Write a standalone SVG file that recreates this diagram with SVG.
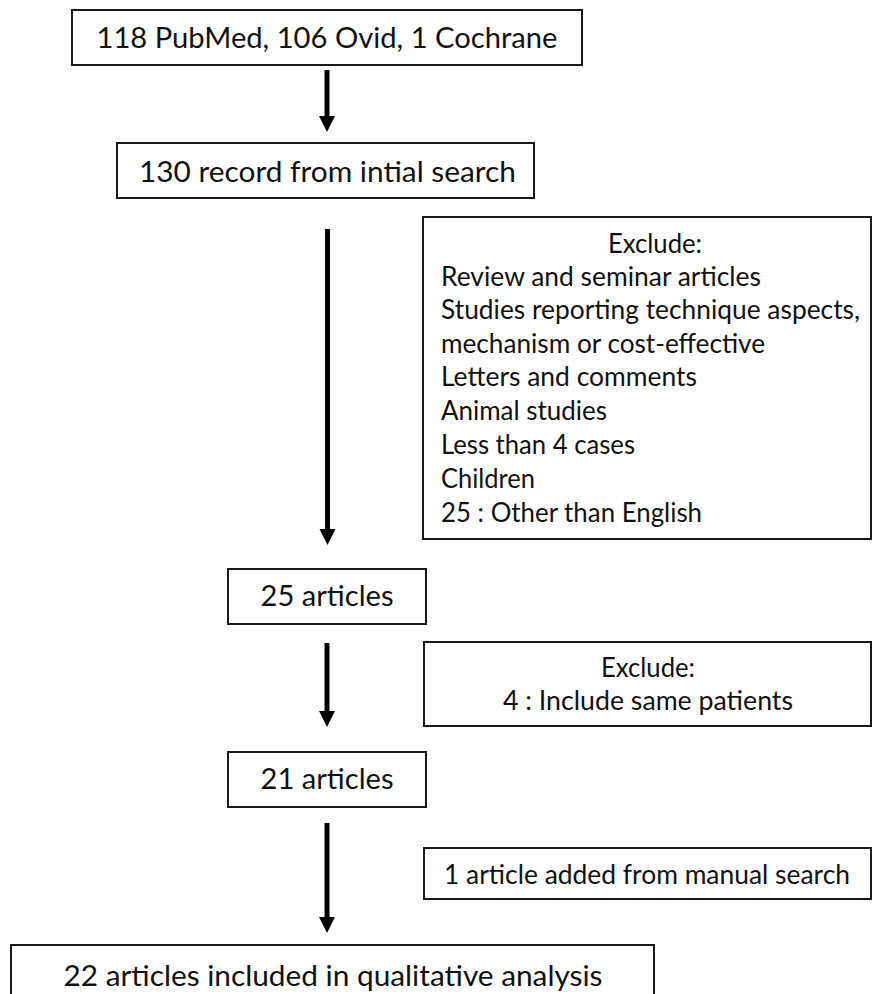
<svg xmlns="http://www.w3.org/2000/svg" width="873" height="994" viewBox="0 0 873 994">
<style>
.box{fill:#fff;stroke:#1a1a1a;stroke-width:2}
.t{font-family:Lato,"Open Sans","Liberation Sans",sans-serif;fill:#111}
.big{font-size:29px}
.mid{font-size:27px}
.c{text-anchor:middle}
.arr{stroke:#000;stroke-width:5;fill:none}
</style>
<defs>
<marker id="ah" markerUnits="userSpaceOnUse" markerWidth="17" markerHeight="17" refX="1" refY="8" orient="auto" viewBox="0 0 17 16">
<path d="M0,0 L16,8 L0,16 z" fill="#000"/>
</marker>
</defs>
<rect width="873" height="994" fill="#fff"/>
<g id="connectors">
<line class="arr" x1="327" y1="70" x2="327" y2="117" marker-end="url(#ah)"/>
<line class="arr" x1="327.5" y1="229" x2="327.5" y2="530" marker-end="url(#ah)"/>
<line class="arr" x1="327" y1="643" x2="327" y2="712" marker-end="url(#ah)"/>
<line class="arr" x1="327" y1="823" x2="327" y2="918" marker-end="url(#ah)"/>
</g>
<g id="n1">
<rect class="box" x="72" y="10" width="510" height="55"/>
<text class="t big c" x="327" y="48" textLength="461" lengthAdjust="spacingAndGlyphs">118 PubMed, 106 Ovid, 1 Cochrane</text>
</g>
<g id="n2">
<rect class="box" x="117" y="143" width="417" height="55"/>
<text class="t big c" x="327.5" y="182" textLength="377" lengthAdjust="spacingAndGlyphs">130 record from intial search</text>
</g>
<g id="ex1">
<rect class="box" x="423" y="217" width="448" height="322"/>
<text class="t mid c" x="655" y="253" textLength="94" lengthAdjust="spacingAndGlyphs">Exclude:</text>
<text class="t mid" x="441" y="286" textLength="320" lengthAdjust="spacingAndGlyphs">Review and seminar articles</text>
<text class="t mid" x="441" y="319" textLength="419" lengthAdjust="spacingAndGlyphs">Studies reporting technique aspects,</text>
<text class="t mid" x="441" y="353" textLength="324" lengthAdjust="spacingAndGlyphs">mechanism or cost-effective</text>
<text class="t mid" x="441" y="386" textLength="256" lengthAdjust="spacingAndGlyphs">Letters and comments</text>
<text class="t mid" x="441" y="420" textLength="166" lengthAdjust="spacingAndGlyphs">Animal studies</text>
<text class="t mid" x="441" y="454" textLength="194" lengthAdjust="spacingAndGlyphs">Less than 4 cases</text>
<text class="t mid" x="441" y="488" textLength="94" lengthAdjust="spacingAndGlyphs">Children</text>
<text class="t mid" x="441" y="522" textLength="261" lengthAdjust="spacingAndGlyphs">25 : Other than English</text>
</g>
<g id="n3">
<rect class="box" x="228" y="569" width="198" height="55"/>
<text class="t big c" x="327" y="606" textLength="133" lengthAdjust="spacingAndGlyphs">25 articles</text>
</g>
<g id="ex2">
<rect class="box" x="424" y="642" width="447" height="84"/>
<text class="t mid c" x="648" y="677" textLength="94" lengthAdjust="spacingAndGlyphs">Exclude:</text>
<text class="t mid c" x="648" y="710" textLength="290" lengthAdjust="spacingAndGlyphs">4 : Include same patients</text>
</g>
<g id="n4">
<rect class="box" x="228" y="752" width="198" height="55"/>
<text class="t big c" x="327" y="789" textLength="133" lengthAdjust="spacingAndGlyphs">21 articles</text>
</g>
<g id="add">
<rect class="box" x="424" y="848" width="447" height="51"/>
<text class="t mid c" x="647" y="884" textLength="406" lengthAdjust="spacingAndGlyphs">1 article added from manual search</text>
</g>
<g id="n5">
<rect class="box" x="11" y="945" width="643" height="60"/>
<text class="t big c" x="333" y="986" textLength="539" lengthAdjust="spacingAndGlyphs">22 articles included in qualitative analysis</text>
</g>
</svg>
